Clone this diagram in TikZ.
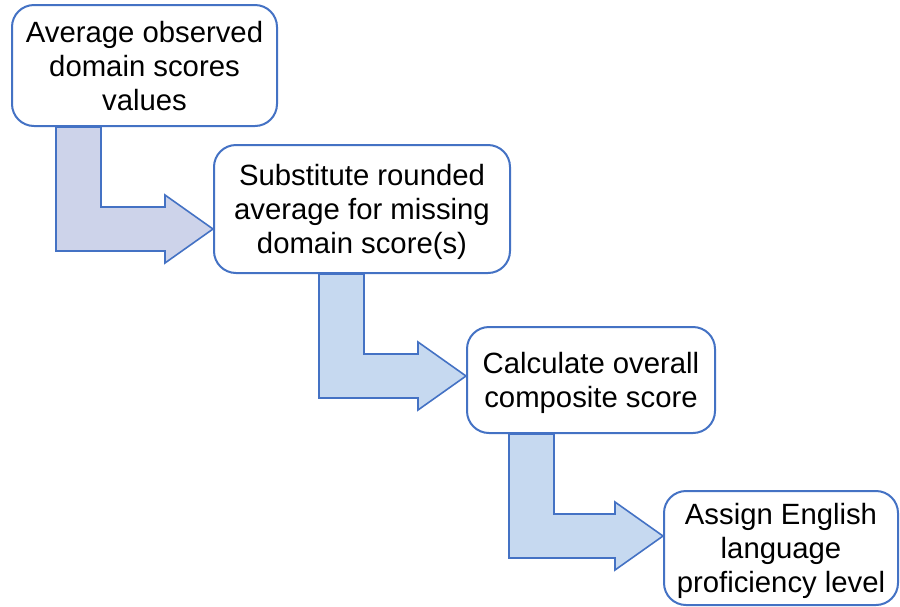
\documentclass[tikz,border=0pt]{standalone}
\usepackage{fontspec}
\setmainfont{Liberation Sans}
\usepackage{tikz}
\usetikzlibrary{calc}
\usetikzlibrary{positioning}
\definecolor{lineblue}{HTML}{4472C4}
\definecolor{lavfill}{HTML}{CDD3EA}
\definecolor{skyfill}{HTML}{C6D9F0}
% bent arrow: from node, to node, shaft offset, tip offset, fill
\newcommand{\bentarrow}[5]{%
 \draw[flow,fill=#5] let \p1=($(#1.south west)+(#3,0)$), \p2=($(#2.west)+(0,#4)$) in
  (\x1,\y1) -- (\x1+45pt,\y1) -- (\x1+45pt,\y2+22pt) -- (\x2-48pt,\y2+22pt)
  -- (\x2-48pt,\y2+34pt) -- (\x2,\y2) -- (\x2-48pt,\y2-34pt)
  -- (\x2-48pt,\y2-22pt) -- (\x1,\y2-22pt) -- cycle;}

\begin{document}
\begin{tikzpicture}[x=1pt,y=1pt,
  box/.style = {draw=lineblue,line width=2pt,rounded corners=22pt,fill=white,
        align=center,font=\fontsize{29.3}{34}\selectfont,text depth=-4pt},
  flow/.style = {draw=lineblue,line width=1.6pt}]
 \useasboundingbox (0,0) rectangle (900,-606);
 \node[box,minimum width=265,minimum height=121] (b1) at (144.5,-65.5)
   {Average observed\\domain scores\\values};
 \node[box,minimum width=296,minimum height=128] (b2) at (362,-209)
   {Substitute rounded\\average for missing\\domain score(s)};
 \node[box,minimum width=248,minimum height=106] (b3) at (591,-380)
   {Calculate overall\\composite score};
 \node[box,minimum width=234,minimum height=114] (b4) at (781,-548)
   {Assign English\\language\\proficiency level};
 \bentarrow{b1}{b2}{45}{-20}{lavfill}
 \bentarrow{b2}{b3}{106}{4}{skyfill}
 \bentarrow{b3}{b4}{43}{12}{skyfill}
\end{tikzpicture}
\end{document}
